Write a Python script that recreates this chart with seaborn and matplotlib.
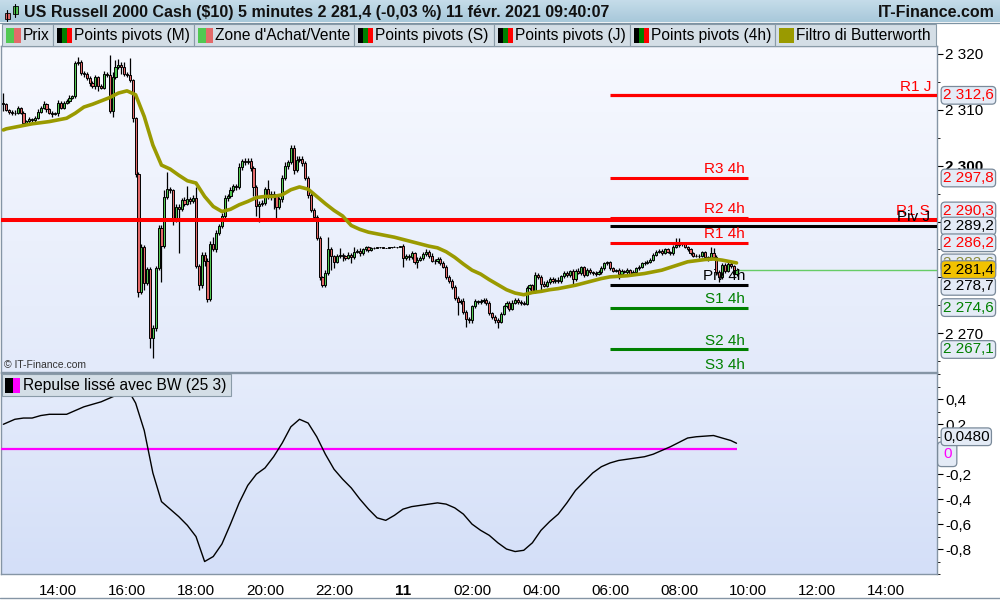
import numpy as np
import pandas as pd
import matplotlib
matplotlib.use("Agg")
import matplotlib.pyplot as plt
from matplotlib.colors import LinearSegmentedColormap
from matplotlib.patches import Rectangle
from matplotlib.ticker import FixedLocator, FuncFormatter, MultipleLocator
import seaborn as sns

# ---- 5 minute candles, 10 Feb 12:25 -> 11 Feb 09:40 (one row per hour) ----
first_open = 2311.2
closes = [
    2311.0, 2310.0, 2309.7, 2309.4, 2309.5, 2310.3, 2309.5,
    2307.6, 2308.0, 2308.3, 2308.1, 2308.6, 2309.7, 2310.3, 2311.0, 2310.1, 2309.5, 2309.3, 2309.4,
    2311.3, 2310.4, 2311.3, 2311.6, 2312.1, 2312.4, 2318.3, 2318.6, 2316.6, 2316.4, 2315.7, 2314.8,
    2314.3, 2315.8, 2314.2, 2314.0, 2316.4, 2316.2, 2309.8, 2315.9, 2317.7, 2318.0, 2317.6, 2316.5,
    2316.2, 2315.3, 2308.5, 2298.5, 2277.4, 2285.4, 2279.0, 2281.5, 2269.2, 2271.0, 2281.7, 2288.8,
    2285.6, 2294.4, 2295.8, 2295.6, 2290.3, 2292.6, 2292.2, 2293.9, 2293.2, 2294.0, 2293.6, 2294.2,
    2282.0, 2278.6, 2284.0, 2283.0, 2276.2, 2286.0, 2285.0, 2288.0, 2289.2, 2291.0, 2294.2, 2294.6,
    2295.6, 2296.4, 2296.1, 2299.8, 2300.8, 2300.6, 2300.9, 2299.6, 2296.2, 2292.8, 2293.2, 2293.4,
    2295.8, 2294.4, 2295.0, 2294.5, 2292.6, 2294.0, 2297.8, 2300.0, 2300.6, 2303.2, 2299.2, 2301.0,
    2301.2, 2300.4, 2297.8, 2294.8, 2292.1, 2290.8, 2287.0, 2280.0, 2278.6, 2280.8, 2285.1, 2283.8,
    2282.8, 2283.8, 2284.0, 2283.8, 2283.5, 2284.0, 2283.6, 2284.6, 2284.8, 2284.3, 2285.0, 2285.4,
    2284.9, 2285.3, 2285.2, 2285.4, 2285.4, 2285.3, 2285.3, 2285.4, 2285.5, 2285.4, 2285.5, 2285.6,
    2283.4, 2283.9, 2283.6, 2284.3, 2282.8, 2283.2, 2283.5, 2284.2, 2284.6, 2283.8, 2283.0, 2282.9,
    2283.3, 2282.6, 2281.9, 2280.1, 2279.4, 2278.3, 2276.3, 2275.6, 2275.8, 2273.9, 2272.6, 2272.3,
    2274.8, 2275.7, 2275.6, 2275.8, 2276.0, 2275.4, 2273.6, 2273.0, 2272.4, 2272.1, 2273.5, 2274.8,
    2275.4, 2274.4, 2275.5, 2276.0, 2275.6, 2275.4, 2275.3, 2278.1, 2278.6, 2277.6, 2280.4, 2280.1,
    2278.9, 2278.5, 2279.2, 2279.7, 2279.3, 2279.6, 2279.3, 2280.2, 2280.8, 2280.4, 2281.1, 2279.7,
    2281.2, 2280.8, 2281.8, 2280.5, 2281.3, 2280.9, 2280.8, 2280.6, 2281.0, 2281.6, 2282.5, 2282.7,
    2281.6, 2281.2, 2281.3, 2280.7, 2281.2, 2281.0, 2281.3, 2280.7, 2281.0, 2281.6, 2281.9, 2282.5,
    2282.6, 2282.8, 2283.2, 2284.0, 2284.6, 2284.8, 2284.4, 2285.0, 2284.6, 2284.3, 2285.5, 2285.8,
    2285.9, 2285.9, 2285.5, 2285.0, 2284.3, 2283.9, 2283.9, 2283.8, 2284.5, 2283.6, 2283.4, 2284.4,
    2283.6, 2281.0, 2280.1, 2282.2, 2281.2, 2282.4, 2282.0, 2280.6, 2281.4,
]
# wick length above / below the body
wick_up = [
    1.8, 0.3, 0.2, 0.3, 0.4, 0.3, 0.2,
    0.3, 0.2, 0.4, 0.3, 0.3, 0.5, 0.4, 0.6, 0.3, 0.2, 0.3, 0.3,
    0.4, 0.3, 0.3, 0.4, 0.5, 0.3, 0.5, 0.9, 0.4, 0.3, 0.4, 0.3,
    0.4, 0.5, 0.3, 0.4, 0.6, 0.4, 3.7, 0.8, 1.2, 1.1, 0.5, 0.9,
    0.3, 3.0, 0.3, 0.3, 0.3, 0.5, 0.4, 0.4, 0.3, 0.5, 0.4, 0.5,
    0.5, 1.2, 3.1, 0.4, 0.3, 0.5, 0.6, 0.4, 0.5, 2.4, 0.4, 0.5,
    2.0, 0.4, 0.6, 0.5, 0.4, 0.5, 1.2, 0.5, 0.4, 0.6, 0.5, 0.4,
    0.5, 0.4, 0.3, 0.6, 0.4, 0.5, 0.5, 0.4, 0.3, 0.3, 0.5, 0.4,
    0.4, 1.6, 0.5, 0.4, 0.3, 0.4, 0.5, 0.6, 0.5, 0.5, 0.5, 0.7,
    0.6, 0.5, 0.4, 0.3, 0.4, 0.3, 0.4, 0.4, 0.3, 0.5, 2.2, 0.4,
    0.3, 0.4, 1.3, 0.3, 0.3, 0.5, 0.3, 0.8, 0.3, 0.4, 0.3, 0.3,
    0.3, 0.2, 0.1, 0.1, 0.0, 0.1, 0.0, 0.1, 0.0, 0.1, 0.0, 0.1,
    0.4, 0.3, 0.3, 0.5, 0.3, 0.4, 0.3, 0.3, 0.4, 0.3, 0.5, 0.3,
    0.4, 0.3, 0.3, 0.4, 0.3, 0.3, 0.4, 0.3, 0.3, 0.5, 0.3, 0.3,
    0.3, 0.4, 0.3, 0.3, 0.4, 0.3, 0.3, 0.3, 0.3, 0.3, 0.4, 0.3,
    0.3, 0.3, 0.4, 0.3, 0.3, 0.3, 0.3, 0.4, 0.3, 0.3, 0.5, 0.4,
    0.3, 0.5, 0.3, 0.3, 0.3, 0.3, 0.4, 0.3, 0.3, 0.3, 0.3, 0.4,
    0.3, 0.4, 0.3, 0.2, 0.3, 0.3, 0.2, 0.3, 0.3, 0.4, 0.3, 0.3,
    0.3, 0.2, 0.2, 0.3, 0.3, 0.2, 0.3, 0.2, 0.3, 0.3, 0.3, 0.3,
    0.3, 0.3, 0.2, 0.3, 0.3, 0.3, 0.2, 0.3, 0.3, 0.2, 0.3, 1.3,
    1.2, 0.3, 0.3, 0.2, 0.3, 0.2, 0.3, 0.3, 0.3, 0.3, 0.2, 1.1,
    0.9, 0.4, 0.3, 0.3, 0.3, 0.3, 0.4, 0.3, 0.2,
]
wick_dn = [
    1.2, 0.2, 0.4, 0.3, 0.4, 0.2, 0.3,
    0.4, 0.3, 0.5, 0.3, 0.2, 0.3, 0.3, 0.2, 0.4, 0.3, 0.5, 0.3,
    0.5, 0.3, 0.2, 0.3, 0.3, 0.2, 0.3, 0.3, 0.4, 0.6, 0.3, 0.5,
    0.3, 0.6, 0.8, 0.3, 0.2, 0.3, 0.4, 1.0, 0.3, 0.4, 1.2, 0.4,
    0.4, 0.3, 0.7, 0.5, 0.9, 0.3, 1.3, 0.3, 1.8, 3.7, 0.6, 0.4,
    6.4, 0.3, 0.3, 0.4, 1.0, 0.4, 7.8, 0.3, 0.5, 0.3, 0.4, 0.3,
    0.4, 0.8, 0.5, 1.0, 0.6, 0.4, 0.3, 0.5, 0.4, 0.3, 0.4, 0.6,
    0.4, 0.3, 0.5, 0.3, 0.6, 0.4, 0.3, 0.5, 1.6, 1.8, 2.9, 0.4,
    0.5, 0.3, 0.6, 2.2, 2.3, 0.4, 0.5, 0.4, 0.5, 0.3, 0.6, 0.4,
    0.3, 0.4, 0.3, 0.5, 0.4, 0.6, 0.3, 0.5, 0.4, 0.3, 0.4, 2.5,
    1.2, 0.3, 0.4, 0.8, 0.3, 0.2, 1.1, 0.3, 0.3, 0.4, 0.2, 0.3,
    0.3, 0.1, 0.1, 0.0, 0.1, 0.0, 0.1, 0.0, 0.1, 0.0, 0.1, 0.0,
    1.5, 0.3, 0.4, 0.3, 0.4, 1.2, 0.3, 0.3, 0.3, 0.4, 0.3, 0.5,
    0.3, 0.4, 0.3, 0.3, 0.4, 0.3, 0.3, 2.3, 0.3, 0.4, 1.4, 0.4,
    0.4, 0.3, 0.3, 0.3, 0.3, 0.4, 0.3, 0.4, 0.5, 1.2, 0.3, 0.3,
    0.3, 0.4, 0.3, 0.3, 0.3, 0.3, 0.3, 0.3, 0.4, 0.3, 0.3, 0.3,
    1.4, 0.3, 0.3, 0.3, 0.3, 0.3, 0.3, 0.3, 0.3, 0.3, 0.3, 1.0,
    0.3, 0.2, 0.3, 0.4, 0.3, 0.3, 0.3, 0.3, 0.2, 0.3, 0.3, 0.3,
    0.3, 0.3, 0.2, 1.0, 0.3, 0.2, 0.3, 0.3, 0.3, 0.2, 0.3, 0.3,
    0.3, 0.2, 0.3, 0.3, 0.2, 0.3, 0.3, 0.2, 0.3, 0.3, 0.2, 0.3,
    0.3, 0.2, 0.3, 0.3, 0.3, 0.2, 0.3, 0.3, 0.2, 0.3, 0.4, 0.3,
    0.3, 0.5, 0.9, 0.3, 0.4, 0.3, 0.3, 0.5, 0.3,
]

# ---- indicators every 15 min (12:25, 12:30 ... 09:30, 09:40) ----
butterworth = [
    2306.4, 2306.6, 2306.9,
    2307.2, 2307.5, 2307.7, 2307.9,
    2308.2, 2308.5, 2309.4, 2310.5,
    2311.0, 2311.6, 2312.2, 2313.0,
    2313.4, 2312.7, 2308.8, 2303.7,
    2300.1, 2299.4, 2298.3, 2297.3,
    2296.9, 2294.5, 2292.7, 2291.8,
    2292.2, 2293.0, 2293.6, 2294.3,
    2294.5, 2294.5, 2294.8, 2295.7,
    2296.2, 2295.8, 2294.5, 2293.2,
    2292.0, 2291.0, 2289.3, 2288.6,
    2288.1, 2287.8, 2287.5, 2287.2,
    2286.8, 2286.4, 2286.0, 2285.6,
    2285.3, 2284.6, 2283.6, 2282.4,
    2281.3, 2280.6, 2279.6, 2278.7,
    2277.8, 2277.2, 2276.9, 2277.3,
    2277.5, 2277.8, 2278.0, 2278.3,
    2278.6, 2279.0, 2279.4, 2279.8,
    2280.1, 2280.2, 2280.3, 2280.5,
    2280.7, 2281.0, 2281.3, 2281.8,
    2282.3, 2282.8, 2283.0, 2283.2,
    2283.3, 2283.1, 2282.8, 2282.6,
]
repulse = [
    0.20, 0.21, 0.24,
    0.25, 0.25, 0.27, 0.28,
    0.28, 0.28, 0.31, 0.34,
    0.36, 0.38, 0.41, 0.44,
    0.49, 0.37, 0.15, -0.19,
    -0.42, -0.48, -0.54, -0.61,
    -0.70, -0.90, -0.86, -0.76,
    -0.60, -0.43, -0.29, -0.20,
    -0.15, -0.06, 0.05, 0.18,
    0.24, 0.21, 0.10, -0.04,
    -0.16, -0.24, -0.31, -0.40,
    -0.48, -0.55, -0.57, -0.53,
    -0.48, -0.46, -0.45, -0.44,
    -0.43, -0.44, -0.47, -0.52,
    -0.60, -0.65, -0.69, -0.75,
    -0.80, -0.82, -0.81, -0.75,
    -0.65, -0.58, -0.52, -0.43,
    -0.33, -0.26, -0.19, -0.14,
    -0.11, -0.09, -0.08, -0.07,
    -0.06, -0.04, -0.01, 0.02,
    0.055, 0.09, 0.10, 0.105,
    0.11, 0.09, 0.07, 0.048,
]

# ---- pivot levels ----
piv4h_names = ["R3 4h", "R2 4h", "R1 4h", "Piv 4h", "S1 4h", "S2 4h", "S3 4h"]
piv4h_values = [2297.8, 2290.7, 2286.2, 2278.7, 2274.6, 2267.1, 2262.7]
piv4h_colors = ["#ff0000", "#ff0000", "#ff0000", "black", "#008000", "#008000", "#008000"]
r1_day, piv_day, r1_week = 2312.6, 2289.2, 2290.3

# right-hand price boxes
box_texts = ["2 312,6", "2 297,8", "2 290,3", "2 289,2", "2 286,2", "2 282,6", "2 281,4", "2 278,7", "2 274,6", "2 267,1"]
box_levels = [2312.6, 2297.8, 2291.9, 2289.2, 2286.2, 2282.6, 2281.4, 2278.4, 2274.6, 2267.1]
box_colors = ["#ff0000", "#ff0000", "#ff0000", "black", "#ff0000", "#8a8a3a", "black", "black", "#008000", "#008000"]

GREEN, RED, OLIVE = "#52c852", "#e36a6a", "#9a9a00"
EDGE = "#8595a5"

sns.set_style("white")
plt.rcParams["font.family"] = ["Liberation Sans", "DejaVu Sans"]
plt.rcParams["font.size"] = 11

day0 = pd.Timestamp("2021-02-10")


def hours(ts):
    return np.asarray((ts - day0) / pd.Timedelta(hours=1), dtype=float)


bar_x = hours(pd.date_range("2021-02-10 12:25", periods=len(closes), freq="5min"))
ind_t = pd.DatetimeIndex(["2021-02-10 12:25"]).append(
    pd.date_range("2021-02-10 12:30", "2021-02-11 09:30", freq="15min")).append(
    pd.DatetimeIndex(["2021-02-11 09:40"]))
ind_x = hours(ind_t)

XL = (12.348, 39.478)
YL = (2263.07, 2321.43)
YL2 = (-1.0, 0.611)

fig = plt.figure(figsize=(10, 6), dpi=100)
ax = fig.add_axes([0.001, 1 - 372 / 600, 0.936, 326 / 600])
ax2 = fig.add_axes([0.001, 1 - 574 / 600, 0.936, 201 / 600])


def shade(axis, top, bottom, yl):
    cmap = LinearSegmentedColormap.from_list("bg", [top, bottom])
    axis.imshow(np.linspace(0, 1, 200).reshape(-1, 1), cmap=cmap, aspect="auto",
                extent=(XL[0], XL[1], yl[0], yl[1]), zorder=0, interpolation="bilinear")


shade(ax, "#f7f9ff", "#e3eafa", YL)
shade(ax2, "#e5ecfb", "#d4dff8", YL2)

# candles
c = np.array(closes)
o = np.r_[first_open, c[:-1]]
hi = np.maximum(o, c) + np.array(wick_up)
lo = np.minimum(o, c) - np.array(wick_dn)
rise = c >= o
w = 5 / 60 * 0.72
ax.vlines(bar_x, lo, hi, color="black", lw=0.9, zorder=3)
ax.bar(bar_x[rise], (c - o)[rise], bottom=o[rise], width=w, color=GREEN,
       edgecolor="black", linewidth=0.7, zorder=4)
ax.bar(bar_x[~rise], (c - o)[~rise], bottom=o[~rise], width=w, color=RED,
       edgecolor="black", linewidth=0.7, zorder=4)

# Butterworth filter
sns.lineplot(x=ind_x, y=butterworth, ax=ax, color=OLIVE, linewidth=2.6, zorder=6)

# pivot lines
ax.hlines(r1_week, XL[0], XL[1], color="#ff0000", lw=2.9, zorder=5)
ax.hlines(r1_day, 30, XL[1], color="#ff0000", lw=2.3, zorder=5)
ax.hlines(piv_day, 30, XL[1], color="black", lw=2.2, zorder=5)
for name, val, col in zip(piv4h_names, piv4h_values, piv4h_colors):
    ax.hlines(val, 30, 34, color=col, lw=2.2, zorder=5)
    ax.annotate(name, xy=(34, val), xytext=(-2, 3.3), textcoords="offset points",
                ha="right", va="baseline", color=col, fontsize=11,
                annotation_clip=False, zorder=8)
ax.annotate("R1 J", xy=(XL[1], r1_day), xytext=(-4, 3.3), textcoords="offset points",
            ha="right", va="baseline", color="#ff0000", fontsize=11, zorder=8)
ax.annotate("R1 S", xy=(XL[1], r1_week), xytext=(-5, 3.3), textcoords="offset points",
            ha="right", va="baseline", color="#ff0000", fontsize=11, zorder=8)
ax.annotate("Piv J", xy=(XL[1], piv_day), xytext=(-5, 3.3), textcoords="offset points",
            ha="right", va="baseline", color="black", fontsize=11, zorder=8)

# last price line
ax.hlines(c[-1], bar_x[-1], XL[1], color="#66cc66", lw=1.0, zorder=5)

ax.text(0.003, 0.006, "© IT-Finance.com", transform=ax.transAxes, fontsize=7.5,
        color="#333333", va="bottom", ha="left")

# price boxes on the right
order_z = [7, 7, 6, 8, 8, 7, 9, 8, 8, 8]
for txt, lvl, col, z in zip(box_texts, box_levels, box_colors, order_z):
    gold = txt == "2 281,4"
    ax.text(1.0064, lvl, txt, transform=ax.get_yaxis_transform(), ha="left", va="center",
            color="black" if gold else col, fontsize=11, zorder=z, clip_on=False,
            bbox=dict(boxstyle="round,pad=0.12,rounding_size=0.25",
                      fc="#f2c200" if gold else "#e4ebf6", ec="#7a8a9a", lw=0.9))

ax.set_xlim(*XL)
ax.set_ylim(*YL)
ax.yaxis.tick_right()
ax.yaxis.set_major_locator(FixedLocator([2270, 2280, 2290, 2300, 2310, 2320]))
ax.yaxis.set_minor_locator(MultipleLocator(5))
ax.yaxis.set_major_formatter(FuncFormatter(lambda v, p: f"{int(round(v)):,}".replace(",", " ")))
ax.tick_params(axis="y", which="major", direction="out", length=4, pad=2, labelsize=11, colors="black")
ax.tick_params(axis="y", which="minor", direction="out", length=2, colors="black")
ax.tick_params(axis="x", bottom=False, labelbottom=False)
for lab in ax.get_yticklabels():
    if lab.get_text() == "2 300":
        lab.set_fontweight("bold")
ax.set_xlabel("")
ax.set_ylabel("")

# Repulse panel
sns.lineplot(x=ind_x, y=repulse, ax=ax2, color="black", linewidth=1.0, zorder=4)
ax2.hlines(0, XL[0], bar_x[-1], color="#ff00ff", lw=1.6, zorder=3)
ax2.text(1.0064, 0.10, "0,0480", transform=ax2.get_yaxis_transform(), ha="left", va="center",
         fontsize=11, color="black", zorder=8, clip_on=False,
         bbox=dict(boxstyle="round,pad=0.12,rounding_size=0.25", fc="#e4ebf6", ec="#7a8a9a", lw=0.9))
ax2.text(1.0064, -0.04, "0", transform=ax2.get_yaxis_transform(), ha="left", va="center",
         fontsize=11, color="#ff00ff", zorder=7, clip_on=False,
         bbox=dict(boxstyle="round,pad=0.35,rounding_size=0.25", fc="#e4ebf6", ec="#7a8a9a", lw=0.9))

ax2.set_xlim(*XL)
ax2.set_ylim(*YL2)
ax2.yaxis.tick_right()
ax2.yaxis.set_major_locator(FixedLocator([-0.8, -0.6, -0.4, -0.2, 0.0, 0.2, 0.4]))
ax2.yaxis.set_minor_locator(MultipleLocator(0.1))
ax2.yaxis.set_major_formatter(FuncFormatter(
    lambda v, p: "0" if abs(v) < 1e-9 else f"{v:.1f}".replace(".", ",")))
ax2.tick_params(axis="y", which="major", direction="out", length=4, pad=2, labelsize=11, colors="black")
ax2.tick_params(axis="y", which="minor", direction="out", length=2, colors="black")
xt = list(range(14, 39, 2))
ax2.xaxis.set_major_locator(FixedLocator(xt))
ax2.xaxis.set_major_formatter(FuncFormatter(
    lambda v, p: "11" if int(round(v)) == 24 else f"{int(round(v)) % 24:02d}:00"))
ax2.tick_params(axis="x", direction="out", length=4, pad=3, labelsize=11, colors="black")
for lab in ax2.get_xticklabels():
    if lab.get_text() == "11":
        lab.set_fontweight("bold")
ax2.set_xlabel("")
ax2.set_ylabel("")

for a in (ax, ax2):
    for s in a.spines.values():
        s.set_color(EDGE)
        s.set_linewidth(1.0)
        s.set_visible(True)

# ---- header, legend strip and panel label (pixel overlay) ----
ov = fig.add_axes([0, 0, 1, 1], zorder=10)
ov.axis("off")
cmap_t = LinearSegmentedColormap.from_list("tb", ["#c6ddea", "#a8c8da"])
ov.imshow(np.linspace(0, 1, 50).reshape(-1, 1), cmap=cmap_t, aspect="auto",
          extent=(0, 1000, 22.5, 0), zorder=0)
ov.plot([0, 1000], [22.5, 22.5], color="#7d93a3", lw=0.9)
# small candle icon
ov.plot([7, 7], [10, 21], color="black", lw=0.8)
ov.add_patch(Rectangle((4.5, 12.5), 5, 6, fc=RED, ec="black", lw=0.6))
ov.plot([15, 15], [4, 17], color="black", lw=0.8)
ov.add_patch(Rectangle((12.5, 6), 5, 8, fc=GREEN, ec="black", lw=0.6))
ov.text(24, 12.5, "US Russell 2000 Cash ($10) 5 minutes 2 281,4 (-0,03 %) 11 févr. 2021 09:40:07",
        fontsize=11.5, fontweight="bold", va="center", ha="left", color="#111111")
ov.text(995, 12.5, "IT-Finance.com", fontsize=11.5, fontweight="bold", va="center", ha="right",
        color="#111111")

legend_labels = ["Prix", "Points pivots (M)", "Zone d'Achat/Vente", "Points pivots (S)",
                 "Points pivots (J)", "Points pivots (4h)", "Filtro di Butterworth"]
legend_edges = [2, 53, 194, 354, 494, 630, 775, 936]
legend_icons = [[GREEN, RED], ["black", "#008000", "#ff0000"], [GREEN, RED],
                ["black", "#008000", "#ff0000"], ["black", "#008000", "#ff0000"],
                ["black", "#008000", "#ff0000"], [OLIVE]]
for lab, x0, x1, cols in zip(legend_labels, legend_edges[:-1], legend_edges[1:], legend_icons):
    ov.add_patch(Rectangle((x0, 24), x1 - x0, 22, fc="#d4dee6", ec="#8a9ba8", lw=0.8))
    step = 15 / len(cols)
    for i, col in enumerate(cols):
        ov.add_patch(Rectangle((x0 + 4 + i * step, 28), step, 15, fc=col, ec="none"))
    ov.text(x0 + 21, 35.5, lab, fontsize=11.2, va="center", ha="left", color="black")

ov.add_patch(Rectangle((2, 374), 229, 22, fc="#d4dee6", ec="#8a9ba8", lw=0.8))
ov.add_patch(Rectangle((5, 378), 7.5, 15, fc="black", ec="none"))
ov.add_patch(Rectangle((12.5, 378), 7.5, 15, fc="#ff00ff", ec="none"))
ov.text(23, 385.5, "Repulse lissé avec BW (25 3)", fontsize=11.2, va="center", ha="left", color="black")
ov.plot([0, 1000], [598, 598], color=EDGE, lw=1.0)
ov.set_xlim(0, 1000)
ov.set_ylim(600, 0)

fig.savefig("out.png", dpi=100, facecolor="white")
